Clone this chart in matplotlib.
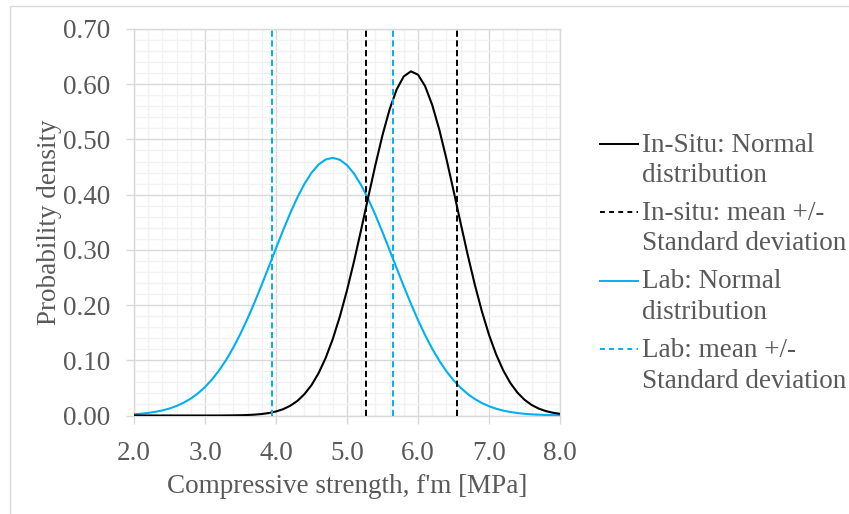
import matplotlib
matplotlib.use("Agg")
import matplotlib.pyplot as plt
from matplotlib.lines import Line2D
from matplotlib.patches import Rectangle
from matplotlib.ticker import MultipleLocator, FormatStrFormatter

plt.rcParams['font.family'] = ['Liberation Serif', 'DejaVu Serif']

# ---- data ----
x_vals = [2.0, 2.1, 2.2, 2.3, 2.4, 2.5, 2.6, 2.7, 2.8, 2.9,
          3.0, 3.1, 3.2, 3.3, 3.4, 3.5, 3.6, 3.7, 3.8, 3.9,
          4.0, 4.1, 4.2, 4.3, 4.4, 4.5, 4.6, 4.7, 4.8, 4.9,
          5.0, 5.1, 5.2, 5.3, 5.4, 5.5, 5.6, 5.7, 5.8, 5.9,
          6.0, 6.1, 6.2, 6.3, 6.4, 6.5, 6.6, 6.7, 6.8, 6.9,
          7.0, 7.1, 7.2, 7.3, 7.4, 7.5, 7.6, 7.7, 7.8, 7.9, 8.0]

insitu_pdf = [0.0000, 0.0000, 0.0000, 0.0000, 0.0000, 0.0000, 0.0000, 0.0000, 0.0000, 0.0000,
              0.0000, 0.0000, 0.0000, 0.0001, 0.0003, 0.0005, 0.0009, 0.0016, 0.0027, 0.0045,
              0.0073, 0.0114, 0.0176, 0.0263, 0.0386, 0.0550, 0.0767, 0.1044, 0.1386, 0.1795,
              0.2268, 0.2798, 0.3369, 0.3959, 0.4538, 0.5078, 0.5544, 0.5907, 0.6142, 0.6233,
              0.6173, 0.5965, 0.5626, 0.5177, 0.4650, 0.4076, 0.3487, 0.2910, 0.2371, 0.1885,
              0.1462, 0.1107, 0.0818, 0.0590, 0.0415, 0.0285, 0.0191, 0.0125, 0.0080, 0.0050, 0.0030]

lab_pdf = [0.0022, 0.0032, 0.0047, 0.0066, 0.0092, 0.0127, 0.0173, 0.0232, 0.0307, 0.0400,
           0.0515, 0.0654, 0.0819, 0.1011, 0.1233, 0.1482, 0.1757, 0.2055, 0.2371, 0.2698,
           0.3029, 0.3353, 0.3663, 0.3946, 0.4194, 0.4396, 0.4546, 0.4637, 0.4666, 0.4631,
           0.4534, 0.4379, 0.4171, 0.3919, 0.3632, 0.3321, 0.2996, 0.2665, 0.2339, 0.2024,
           0.1728, 0.1456, 0.1209, 0.0991, 0.0801, 0.0639, 0.0503, 0.0390, 0.0299, 0.0225,
           0.0168, 0.0123, 0.0089, 0.0064, 0.0045, 0.0031, 0.0021, 0.0015, 0.0010, 0.0006, 0.0004]

insitu_sd_lines = [5.27, 6.55]   # mean -/+ standard deviation
lab_sd_lines = [3.94, 5.65]
sd_line_y = [0.0, 0.70]

legend_labels = [("In-Situ: Normal", "distribution"),
                 ("In-situ: mean +/-", "Standard deviation"),
                 ("Lab: Normal", "distribution"),
                 ("Lab: mean +/-", "Standard deviation")]

x_label = "Compressive strength, f'm [MPa]"
y_label = "Probability density"

# ---- styling ----
W, H = 849, 514
BLACK = "#000000"
BLUE = "#00B0F0"
TXT = "#595959"
FS = 19.5

fig = plt.figure(figsize=(W / 100, H / 100), dpi=100)
fig.patch.set_facecolor("white")

# outer chart border
fig.patches.append(Rectangle((10 / W, -0.1), 1.2, 1 - 6 / H + 0.1, transform=fig.transFigure,
                             fill=False, edgecolor="#d9d9d9", linewidth=1.0))

ax = fig.add_axes([134 / W, 1 - 415.5 / H, (560 - 134) / W, (415.5 - 29) / H])
ax.set_xlim(2.0, 8.0)
ax.set_ylim(0.0, 0.70)

ax.xaxis.set_major_locator(MultipleLocator(1.0))
ax.xaxis.set_minor_locator(MultipleLocator(0.2))
ax.yaxis.set_major_locator(MultipleLocator(0.1))
ax.yaxis.set_minor_locator(MultipleLocator(0.02))
ax.xaxis.set_major_formatter(FormatStrFormatter("%.1f"))
ax.yaxis.set_major_formatter(FormatStrFormatter("%.2f"))

ax.grid(which="minor", color="#f2f2f2", linewidth=1.0, zorder=0)
ax.grid(which="major", color="#d9d9d9", linewidth=1.0, zorder=0)
ax.set_axisbelow(True)

for side in ["left", "bottom", "top", "right"]:
    ax.spines[side].set_color("#d9d9d9")
    ax.spines[side].set_linewidth(1.0)

ax.tick_params(which="major", length=6, width=1.0, color="#d9d9d9",
               labelsize=FS, labelcolor=TXT)
ax.tick_params(axis="y", which="major", pad=11)
ax.tick_params(axis="x", which="major", pad=12)
ax.tick_params(which="minor", length=0)

# curves
ax.plot(x_vals, lab_pdf, color=BLUE, linewidth=1.5, zorder=3)
ax.plot(x_vals, insitu_pdf, color=BLACK, linewidth=1.5, zorder=4)

for xv in insitu_sd_lines:
    ax.plot([xv, xv], sd_line_y, color=BLACK, linewidth=1.4, dashes=(3.2, 1.8), zorder=5)
for xv in lab_sd_lines:
    ax.plot([xv, xv], sd_line_y, color=BLUE, linewidth=1.4, dashes=(3.2, 1.8), zorder=5)

ax.set_xlabel(x_label, fontsize=FS, color=TXT, labelpad=6)
ax.set_ylabel(y_label, fontsize=FS, color=TXT, labelpad=1)

# legend (manual, handle aligned with first text line)
handles_style = [(BLACK, "-"), (BLACK, "--"), (BLUE, "-"), (BLUE, "--")]
entry_y = [143.5, 212, 280.5, 349]
for (col, ls), (l1, l2), yy in zip(handles_style, legend_labels, entry_y):
    yf = 1 - yy / H
    kw = dict(dashes=(2.5, 2.2)) if ls == "--" else {}
    fig.lines.append(Line2D([600 / W, 638 / W], [yf, yf], transform=fig.transFigure,
                            color=col, linewidth=1.4, **kw))
    fig.text(642 / W, yf - 1.5 / H, l1, fontsize=FS, color=TXT, va="center", ha="left")
    fig.text(642 / W, 1 - (yy + 32) / H, l2, fontsize=FS, color=TXT, va="center", ha="left")

fig.savefig("out.png", dpi=100, facecolor="white")
